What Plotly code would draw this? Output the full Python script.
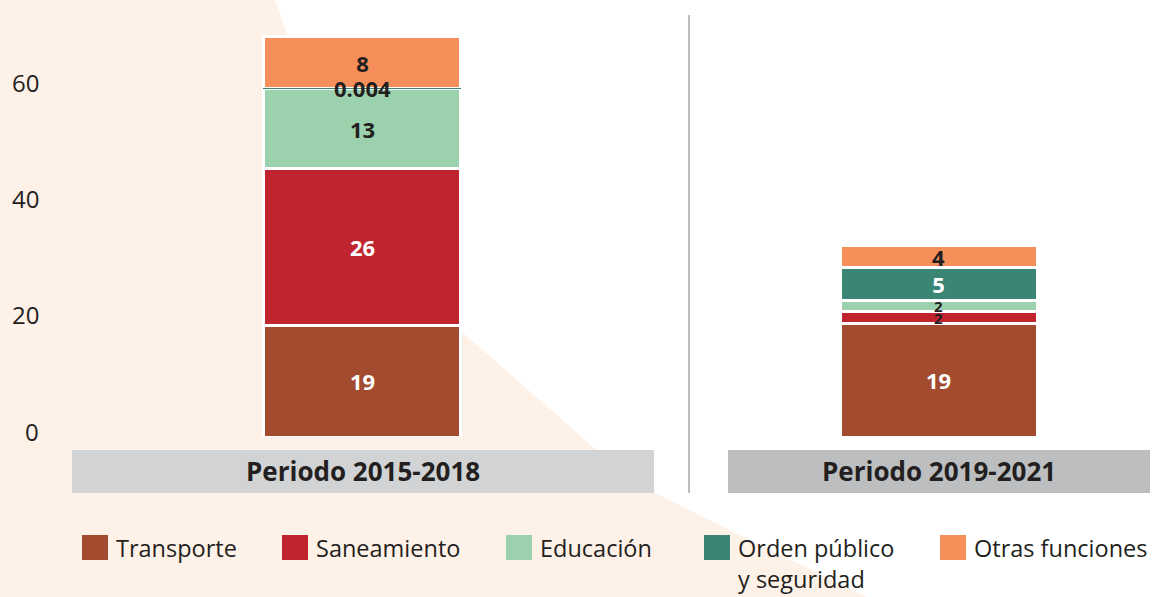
import plotly.graph_objects as go

# ---------------- data ----------------
periods = ["Periodo 2015-2018", "Periodo 2019-2021"]
series_names = ["Transporte", "Saneamiento", "Educación", "Orden público<br>y seguridad", "Otras funciones"]
transporte = [19.1, 19.6]
saneamiento = [27.0, 1.9]
educacion = [13.9, 2.0]
orden = [0.004, 5.6]
otras = [8.8, 3.8]
labels_transporte = ["19", "19"]
labels_saneamiento = ["26", "2"]
labels_educacion = ["13", "2"]
labels_orden = ["0.004", "5"]
labels_otras = ["8", "4"]
y_ticks = [0, 20, 40, 60]

# ---------------- styles ----------------
colors = ["#a34b2e", "#c0242f", "#9bd2ad", "#3b8575", "#f68f5a"]
DARK = "#231f20"
WHITE = "#ffffff"
FONT = "Open Sans"
W, H = 1156, 597
ML, MR, MT, MB = 60, 6, 30, 160
PW = W - ML - MR
PH = H - MT - MB


def px(x):
    return (x - ML) / PW


def py(y):
    return (H - MB - y) / PH


fig = go.Figure()

series = [
    (transporte, labels_transporte, [WHITE, WHITE], [22, 22]),
    (saneamiento, labels_saneamiento, [WHITE, DARK], [22, 15]),
    (educacion, labels_educacion, [DARK, DARK], [22, 15]),
    (orden, labels_orden, [DARK, WHITE], [22, 22]),
    (otras, labels_otras, [DARK, DARK], [22, 22]),
]

for i, (vals, labs, tcol, tsize) in enumerate(series):
    line_col = [WHITE, WHITE]
    line_w = [3, 3]
    z = 0
    if i == 3:
        line_col = [colors[3], WHITE]
        line_w = [1, 3]
        z = 1
    fig.add_trace(go.Bar(
        x=periods, y=vals, name=series_names[i],
        marker=dict(color=colors[i], line=dict(color=line_col, width=line_w)),
        text=labs, textposition="inside", insidetextanchor="middle",
        constraintext="none", textangle=0,
        textfont=dict(family=FONT, size=tsize, color=tcol, weight="bold"),
        hoverinfo="skip", showlegend=False, zorder=z,
    ))

# peach background shape
peach_pts = [(-10, -10), (272, -10), (275, 0), (288, 37), (310, 88), (350, 170), (405, 250),
             (463, 333), (534, 395), (593, 447), (653, 492), (760, 545), (867, 597),
             (880, 610), (-10, 610)]
path = "M " + " L ".join(f"{px(a):.5f},{py(b):.5f}" for a, b in peach_pts) + " Z"

shapes = [
    dict(type="path", path=path, xref="paper", yref="paper", layer="below",
         fillcolor="#fef1e8", line=dict(width=0)),
    dict(type="line", xref="paper", yref="paper", x0=px(689), x1=px(689), y0=py(15), y1=py(493),
         line=dict(color="#bcbec0", width=2)),
    dict(type="rect", xref="paper", yref="paper", x0=px(72), x1=px(654), y0=py(450), y1=py(493),
         fillcolor="#d1d3d4", line=dict(width=0), layer="below"),
    dict(type="rect", xref="paper", yref="paper", x0=px(728), x1=px(1150), y0=py(450), y1=py(493),
         fillcolor="#bcbec0", line=dict(width=0), layer="below"),
]

annotations = []
for t in y_ticks:
    annotations.append(dict(x=px(41), xref="paper", y=t, yref="y", text=str(t), showarrow=False,
                            xanchor="right", yanchor="middle", yshift=6,
                            font=dict(family=FONT, size=24, color=DARK)))

for name, cx in zip(periods, [363, 939]):
    annotations.append(dict(x=px(cx), xref="paper", y=py(471), yref="paper", text=f"<b>{name}</b>",
                            showarrow=False, xanchor="center", yanchor="middle",
                            font=dict(family=FONT, size=26, color=DARK)))

legend_sq_x = [82, 282, 506, 704, 940]
for i, name in enumerate(series_names):
    x0 = legend_sq_x[i]
    shapes.append(dict(type="rect", xref="paper", yref="paper", x0=px(x0), x1=px(x0 + 26),
                       y0=py(535), y1=py(560), fillcolor=colors[i], line=dict(width=0)))
    annotations.append(dict(x=px(x0 + 32), xref="paper", y=py(530), yref="paper", text=name,
                            showarrow=False, xanchor="left", yanchor="top", align="left",
                            font=dict(family=FONT, size=23.5, color=DARK)))

fig.update_layout(
    width=W, height=H, autosize=False,
    margin=dict(l=ML, r=MR, t=MT, b=MB),
    paper_bgcolor="white", plot_bgcolor="rgba(0,0,0,0)",
    barmode="stack", bargap=1 - 197 / 576,
    xaxis=dict(range=[-0.525, 1.367], showticklabels=False, showgrid=False, zeroline=False,
               showline=False, ticks=""),
    yaxis=dict(range=[0, 70], showticklabels=False, showgrid=False, zeroline=False,
               showline=False, ticks=""),
    shapes=shapes, annotations=annotations,
    font=dict(family=FONT, color=DARK),
)

fig.write_html("out.html", config={"displayModeBar": False},
               post_script="document.body.style.margin='0px';")
